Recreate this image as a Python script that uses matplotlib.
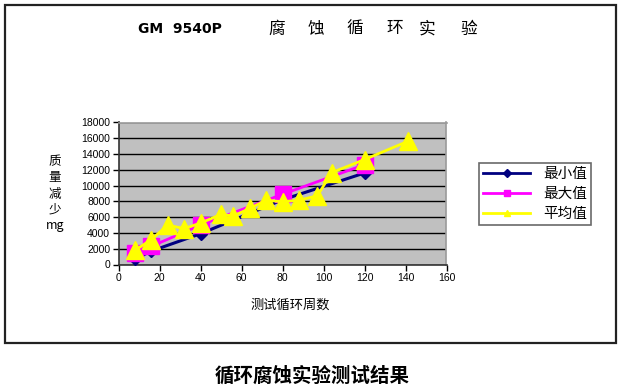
"""GM 9540P cyclic corrosion test: mass loss vs. cycles."""

import matplotlib
matplotlib.use("Agg")
import matplotlib.pyplot as plt
from matplotlib.lines import Line2D
from matplotlib.patches import Rectangle

plt.rcParams["font.family"] = ["Noto Sans CJK SC", "DejaVu Sans"]

# data
min_cycles = [8, 16, 40, 80, 120]
min_loss = [700, 1700, 3900, 8200, 11600]

max_cycles = [8, 16, 40, 80, 120]
max_loss = [1400, 2300, 5000, 8900, 12650]

avg_cycles = [8, 16, 24, 32, 40, 50, 56, 64, 72, 80, 88, 97, 104, 120, 141]
avg_loss = [1800, 3150, 5000, 4550, 5250, 6350, 6150, 7100, 8150, 7950,
            8150, 8700, 11650, 13300, 15600]

series_names = ["最小值", "最大值", "平均值"]
x_ticks = [0, 20, 40, 60, 80, 100, 120, 140, 160]
y_ticks = [0, 2000, 4000, 6000, 8000, 10000, 12000, 14000, 16000, 18000]

NAVY = "#000080"
MAGENTA = "#FF00FF"
YELLOW = "#FFFF00"

W, H = 623, 391
fig = plt.figure(figsize=(W / 100, H / 100), dpi=100)
fig.patch.set_facecolor("white")


def fx(px):
    return px / W


def fy(py):
    return 1 - py / H


# outer frame
fig.patches.append(Rectangle((fx(5), fy(343)), fx(611), 338 / H,
                             transform=fig.transFigure, fill=False,
                             edgecolor="#222222", linewidth=1.6))

ax = fig.add_axes([fx(118.5), fy(264.5), fx(446.5 - 118.5), (264.5 - 122.5) / H])
ax.set_facecolor("#C0C0C0")

ax.plot(min_cycles, min_loss, color=NAVY, linewidth=2.2, marker="D",
        markersize=6, zorder=3)
ax.plot(max_cycles, max_loss, color=MAGENTA, linewidth=2.0, marker="s",
        markersize=11, zorder=4)
ax.plot(avg_cycles, avg_loss, color=YELLOW, linewidth=2.0, marker="^",
        markersize=13, zorder=5)

ax.set_xlim(0, 160)
ax.set_ylim(0, 18000)
ax.set_xticks(x_ticks)
ax.set_yticks(y_ticks)
ax.yaxis.grid(True, color="black", linewidth=1.0)
ax.set_axisbelow(True)
ax.tick_params(axis="both", direction="out", length=4, width=1,
               labelsize=7.5, pad=2, colors="black")
for lab in ax.get_xticklabels() + ax.get_yticklabels():
    lab.set_fontfamily("Liberation Sans")
ax.spines["left"].set_color("#333333")
ax.spines["bottom"].set_color("#333333")
ax.spines["top"].set_color("#9A9A9A")
ax.spines["right"].set_color("#9A9A9A")
for s in ax.spines.values():
    s.set_linewidth(1.2)

# titles and labels
fig.text(fx(180), fy(29), "GM  9540P", ha="center", va="center",
         fontsize=10, fontweight="bold", family="DejaVu Sans")
for ch, px in zip("腐蚀循环实验", [277, 316, 355, 395, 427, 469]):
    fig.text(fx(px), fy(29), ch, ha="center", va="center", fontsize=12)

fig.text(fx(55), fy(194), "质\n量\n减\n少\nmg", ha="center", va="center",
         fontsize=9, linespacing=1.3)
fig.text(fx(290), fy(305), "测试循环周数", ha="center", va="center", fontsize=9.5)
fig.text(fx(312), fy(376), "循环腐蚀实验测试结果", ha="center", va="center",
         fontsize=14, fontweight="bold")

handles = [
    Line2D([], [], color=NAVY, linewidth=2, marker="D", markersize=4),
    Line2D([], [], color=MAGENTA, linewidth=2, marker="s", markersize=5),
    Line2D([], [], color=YELLOW, linewidth=2, marker="^", markersize=5),
]
leg = fig.legend(handles, series_names, loc="upper left",
                 bbox_to_anchor=(fx(479), fy(163)), fontsize=10.5,
                 frameon=True, fancybox=False, edgecolor="#444444",
                 handlelength=3.2, handletextpad=0.9, labelspacing=0.4,
                 borderpad=0.3, borderaxespad=0)
leg.get_frame().set_linewidth(1.2)

fig.savefig("out.png", dpi=100)
